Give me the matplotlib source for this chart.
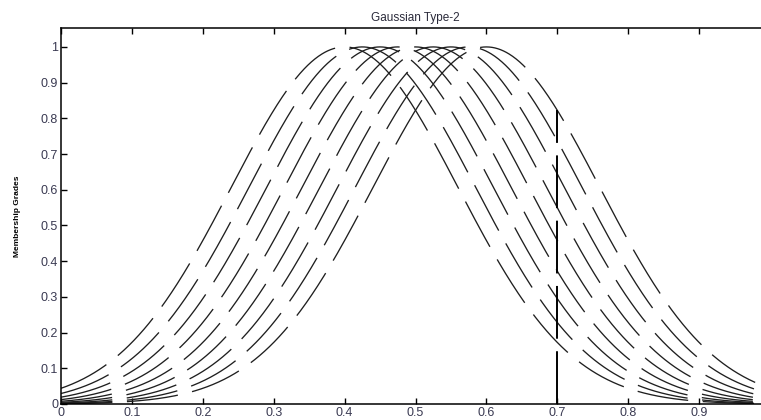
import numpy as np
import matplotlib.pyplot as plt

# gaussian type-2 MF: uncertain mean, fixed spread
centers = [0.4, 0.425, 0.45, 0.475, 0.5, 0.525, 0.55, 0.575, 0.6]
sigma = 0.16
x_cut = 0.7

xticks = [0, 0.1, 0.2, 0.3, 0.4, 0.5, 0.6, 0.7, 0.8, 0.9]
xtick_labels = ['0', '0.1', '0.2', '0.3', '0.4', '0.5', '0.6', '0.7', '0.8', '0.9']
yticks = [0, 0.1, 0.2, 0.3, 0.4, 0.5, 0.6, 0.7, 0.8, 0.9, 1.0]
ytick_labels = ['0', '0.1', '0.2', '0.3', '0.4', '0.5', '0.6', '0.7', '0.8', '0.9', '1']

plt.rcParams['font.family'] = ['Liberation Sans', 'DejaVu Sans']
plt.rcParams['lines.scale_dashes'] = False

fig = plt.figure(figsize=(7.61, 4.2), dpi=100)
ax = fig.add_axes([61 / 761, 16 / 420, 709 / 761, 376 / 420])

x = np.linspace(0, 1, 1001)
curves = []
for c in centers:
    y = np.exp(-(x - c) ** 2 / (2 * sigma ** 2))
    curves.append(y)
    ax.plot(x, y, color='#1f1f1f', lw=0.95, dashes=(37, 10.5))

upper = np.max(curves, axis=0)
top = np.interp(x_cut, x, upper)
ax.plot([x_cut, x_cut], [0, top], color='black', lw=1.4, dashes=(38, 9))

ax.set_xlim(0, 1)
ax.set_ylim(0, 1.053)
ax.set_xticks(xticks)
ax.set_xticklabels(xtick_labels)
ax.set_yticks(yticks)
ax.set_yticklabels(ytick_labels)
ax.tick_params(direction='in', length=4, width=1, top=True, right=True,
               labelsize=9, labelcolor='#3a3a52', pad=2)
for s in ax.spines.values():
    s.set_linewidth(1.1)

ax.set_title('Gaussian Type-2', fontsize=8.5, color='#2a2a3a', pad=5)
ax.set_ylabel('Membership Grades', fontsize=6, fontweight='bold', labelpad=14)

fig.savefig('out.png', dpi=100)
